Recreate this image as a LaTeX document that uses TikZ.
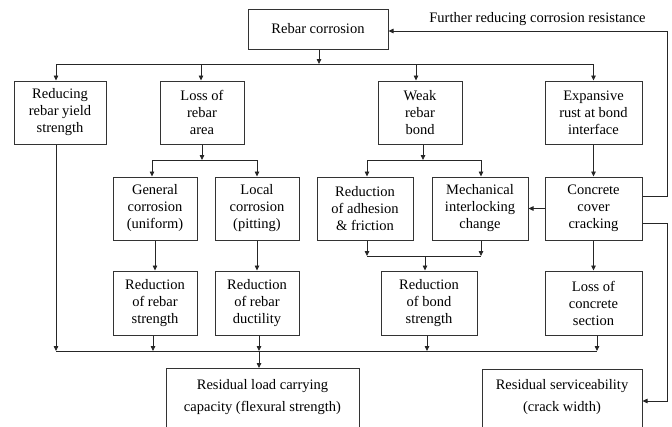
\documentclass[tikz,border=0pt]{standalone}
\usepackage{fontspec}
\setmainfont{Liberation Serif}
\usetikzlibrary{arrows.meta}
\newcommand{\fsz}{\fontsize{14.5}{17}\selectfont}
\begin{document}
\begin{tikzpicture}[x=1pt,y=-1pt,
  box/.style={draw=black!80, line width=1pt, align=center, inner sep=0pt, font=\fsz, fill=white},
  txt/.style={align=center, inner sep=0pt, font=\fsz},
  ln/.style={draw=black!85, line width=0.8pt},
  arr/.style={draw=black!85, line width=0.8pt, -{Triangle[length=5pt,width=4.5pt]}}]
\useasboundingbox (0,0) rectangle (672,426);
\clip (0,0) rectangle (672,426);
\fill[white] (0,0) rectangle (672,426);

% top
\node[box, minimum width=140, minimum height=40] (rc) at (318,29) {Rebar corrosion};
\node[txt] (fl) at (537.5,19) {Further reducing corrosion resistance};

% row 1
\node[box, minimum width=92, minimum height=63] (b1) at (60,112.5) {Reducing\\rebar yield\\strength};
\node[box, minimum width=84, minimum height=63] (b2) at (202,112.5) {Loss of\\rebar\\area};
\node[box, minimum width=84, minimum height=63] (b3) at (420,112.5) {Weak\\rebar\\bond};
\node[box, minimum width=97, minimum height=63] (b4) at (593.5,112.5) {Expansive\\rust at bond\\interface};

% row 2
\node[box, minimum width=84, minimum height=63] (gc) at (155,208.5) {General\\corrosion\\(uniform)};
\node[box, minimum width=84, minimum height=63] (lc) at (257,208.5) {Local\\corrosion\\(pitting)};
\node[box, minimum width=96, minimum height=63] (ra) at (365,208.5) {Reduction\\of adhesion\\\& friction};
\node[box, minimum width=96, minimum height=63] (mi) at (480,208.5) {Mechanical\\interlocking\\change};
\node[box, minimum width=97, minimum height=63] (cc) at (593.5,208.5) {Concrete\\cover\\cracking};

% row 3
\node[box, minimum width=84, minimum height=64] (rs) at (155,303) {Reduction\\of rebar\\strength};
\node[box, minimum width=84, minimum height=64] (rd) at (257,303) {Reduction\\of rebar\\ductility};
\node[box, minimum width=96, minimum height=64] (rb) at (429,303) {Reduction\\of bond\\strength};
\node[box, minimum width=97, minimum height=64] (lcs) at (593.5,303) {Loss of\\concrete\\section};

% bottom boxes (cut by the lower edge)
\node[box, minimum width=193, minimum height=90, anchor=north] (rl) at (262.5,368) {};
\node[txt] (rlt) at (262.5,397) {Residual load carrying\\[5pt]capacity (flexural strength)};
\node[box, minimum width=160, minimum height=90, anchor=north] (rsv) at (562,369) {};
\node[txt] (rsvt) at (562,397) {Residual serviceability\\[5pt](crack width)};

% top bus
\coordinate (t0) at (319,64);
\coordinate (tL) at (56,64);
\coordinate (tR) at (593.5,64);
\coordinate (t2) at (201,64);
\coordinate (t3) at (416,64);
\draw[arr] (rc.south -| t0) -- (t0);
\draw[ln] (tL) -- (tR);
\draw[arr] (tL) -- (tL |- b1.north);
\draw[arr] (t2) -- (t2 |- b2.north);
\draw[arr] (t3) -- (t3 |- b3.north);
\draw[arr] (tR) -- (b4.north);

% feedback loops on the right
\coordinate (fb) at (667,31);
\coordinate (sv) at (667,401);
\draw[arr] ([yshift=12.5pt]cc.east) -| (fb) -- (fb -| rc.east);
\draw[arr] ([yshift=-14.5pt]cc.east) -| (sv) -- (sv -| rsv.east);

% fork under loss of rebar area
\coordinate (f2) at (202,160);
\coordinate (f2L) at (152,160);
\coordinate (f2R) at (257,160);
\draw[arr] (b2.south) -- (f2);
\draw[ln] (f2L) -- (f2R);
\draw[arr] (f2L) -- (f2L |- gc.north);
\draw[arr] (f2R) -- (lc.north);

% fork under weak rebar bond
\coordinate (f3) at (423,160);
\coordinate (f3L) at (367,160);
\coordinate (f3R) at (481,160);
\draw[arr] (b3.south -| f3) -- (f3);
\draw[ln] (f3L) -- (f3R);
\draw[arr] (f3L) -- (f3L |- ra.north);
\draw[arr] (f3R) -- (f3R |- mi.north);

% expansive rust -> cracking -> interlocking
\draw[arr] (b4) -- (cc);
\draw[arr] (cc.west) -- (mi.east);

% row 2 -> row 3
\draw[arr] (gc) -- (rs);
\draw[arr] (lc) -- (rd);
\draw[arr] (cc) -- (lcs);
\coordinate (m3L) at (367,256);
\coordinate (m3R) at (481,256);
\coordinate (m3) at (425,256);
\draw[arr] (ra.south -| m3L) -- (m3L);
\draw[arr] (mi.south -| m3R) -- (m3R);
\draw[ln] (m3L) -- (m3R);
\draw[arr] (m3) -- (m3 |- rb.north);

% bottom bus
\coordinate (bL) at (56,351);
\coordinate (bR) at (597,351);
\coordinate (bs) at (153,351);
\coordinate (bd) at (259,351);
\coordinate (bb) at (427,351);
\draw[ln] (bL) -- (bR);
\draw[arr] (b1.south -| bL) -- (bL);
\draw[arr] (rs.south -| bs) -- (bs);
\draw[arr] (rd.south -| bd) -- (bd);
\draw[arr] (rb.south -| bb) -- (bb);
\draw[arr] (lcs.south -| bR) -- (bR);
\draw[arr] (bd) -- (bd |- rl.north);
\end{tikzpicture}
\end{document}
